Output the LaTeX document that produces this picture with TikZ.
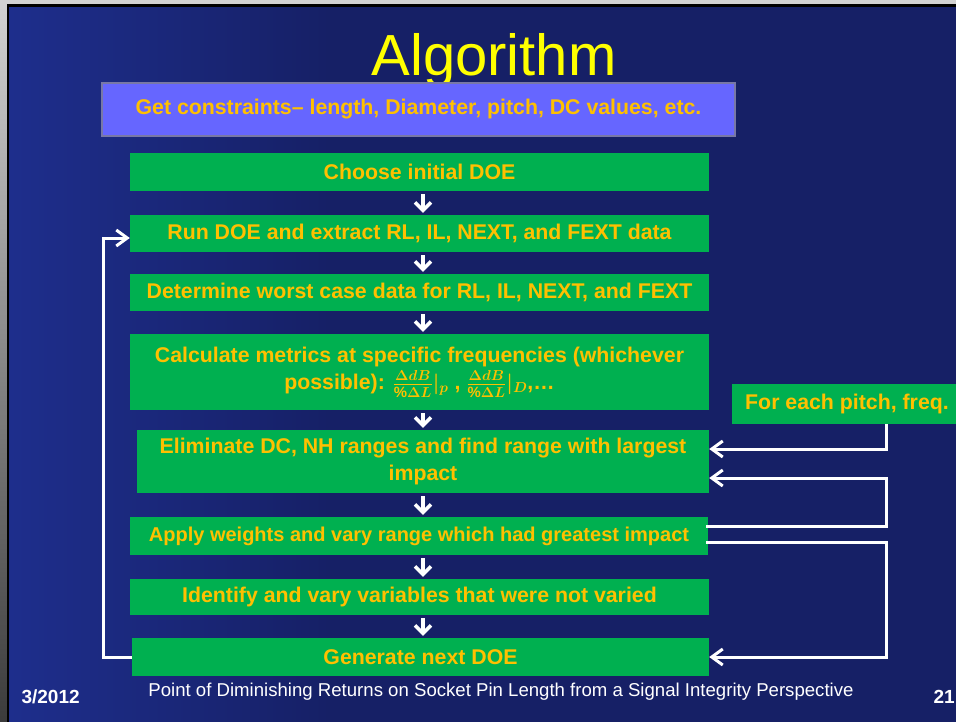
\documentclass[tikz,border=0pt]{standalone}
\usepackage{fontspec}
\setmainfont{Liberation Sans}
\definecolor{slideblue}{RGB}{22,32,102}
\definecolor{stripblue}{RGB}{30,46,140}
\definecolor{stepgreen}{RGB}{0,176,80}
\definecolor{textgold}{RGB}{255,192,0}
\definecolor{consblue}{RGB}{102,102,255}
\definecolor{titleyellow}{RGB}{255,255,0}
\usetikzlibrary{arrows.meta,positioning,calc}

\begin{document}
\begin{tikzpicture}[x=1pt,y=-1pt,
    stepbox/.style={rectangle,fill=stepgreen,text=textgold,align=center,inner sep=0pt,
      font=\fontsize{21.3}{27}\selectfont\bfseries},
    flow/.style={draw=white,line width=3.5pt,-{Straight Barb[length=8pt,width=16pt]},
      shorten <=3pt,shorten >=2pt},
    loopline/.style={draw=white,line width=3pt,-{Straight Barb[length=11pt,width=16pt]}}]
  % Slide background
  \useasboundingbox (0,0) rectangle (956,721);
  \clip (0,0) rectangle (956,721);
  \fill[slideblue] (-5,-5) rectangle (961,730);
  \shade[left color=stripblue,right color=slideblue] (9,6) rectangle (330,730);
  \shade[top color=gray!35,bottom color=gray!45!black] (-5,0) rectangle (7,730);
  \fill[gray!35] (-5,-5) rectangle (961,4);
  \fill[black] (7,4) rectangle (961,7);
  \fill[black] (7,4) rectangle (9,730);
  % Title
  \node[text=titleyellow,font=\fontsize{58}{60}\selectfont] (title) at (494,60) {Algorithm};
  % Constraint box
  \node[stepbox,fill=consblue,draw=gray!70!consblue,line width=2pt,minimum width=633,minimum height=53]
    (cons) at (418.5,109.5) {Get constraints\textendash{} length, Diameter, pitch, DC values, etc.};
  % Flow steps
  \node[stepbox,minimum width=579,minimum height=38] (choose) at (419.5,172) {Choose initial DOE};
  \node[stepbox,minimum width=579,minimum height=37] (run) at (419.5,233.5)
    {Run DOE and extract RL, IL, NEXT, and FEXT data};
  \node[stepbox,minimum width=579,minimum height=37] (worst) at (419.5,292.5)
    {Determine worst case data for RL, IL, NEXT, and FEXT};
  \node[stepbox,minimum width=579,minimum height=76] (calc) at (419.5,372)
    {Calculate metrics at specific frequencies (whichever\\
     possible): {\boldmath$\frac{\Delta dB}{\%\Delta L}|_{p}$} , {\boldmath$\frac{\Delta dB}{\%\Delta L}|_{D}$},\dots};
  \node[stepbox,minimum width=572,minimum height=63] (elim) at (423,461.5)
    {Eliminate DC, NH ranges and find range with largest\\impact};
  \node[stepbox,font=\fontsize{20}{26}\selectfont\bfseries,minimum width=578,minimum height=38]
    (apply) at (419,536) {Apply weights and vary range which had greatest impact};
  \node[stepbox,minimum width=579,minimum height=36] (ident) at (419.5,597)
    {Identify and vary variables that were not varied};
  \node[stepbox,minimum width=577,minimum height=38] (gen) at (420.5,657) {Generate next DOE};
  \node[stepbox,minimum width=230,minimum height=40] (each) at (847,404) {For each pitch, freq.};
  % Down arrows
  \coordinate (ax) at (423,0);
  \foreach \a/\b in {choose/run,run/worst,worst/calc,calc/elim,elim/apply,apply/ident,ident/gen}
    \draw[flow] (\a.south -| ax) -- (\b.north -| ax);
  % Feedback loops
  \coordinate (rx) at (886,0);
  \coordinate (lx) at (103,0);
  \draw[loopline] (each.south -| rx) |- ($(elim.east)+(0,-12.5)$);
  \draw[loopline] ($(apply.east)+(-2,-10)$) -| ($(rx |- elim.east)+(0,16.5)$) -- ($(elim.east)+(0,16.5)$);
  \draw[loopline] ($(apply.east)+(-2,6)$) -| (rx |- gen.east) -- (gen.east);
  \draw[loopline] (gen.west) -| ($(lx |- run.west)+(0,4.5)$) -- ($(run.west)+(0,4.5)$);
  % Footer
  \node[text=white,font=\fontsize{19}{20}\selectfont\bfseries,anchor=west] (date) at (18,697) {3/2012};
  \node[text=white,font=\fontsize{18.6}{20}\selectfont] (foot) at (501,692)
    {Point of Diminishing Returns on Socket Pin Length from a Signal Integrity Perspective};
  \node[text=white,font=\fontsize{19}{20}\selectfont\bfseries,anchor=west] (page) at (930,697) {21};
\end{tikzpicture}
\end{document}
